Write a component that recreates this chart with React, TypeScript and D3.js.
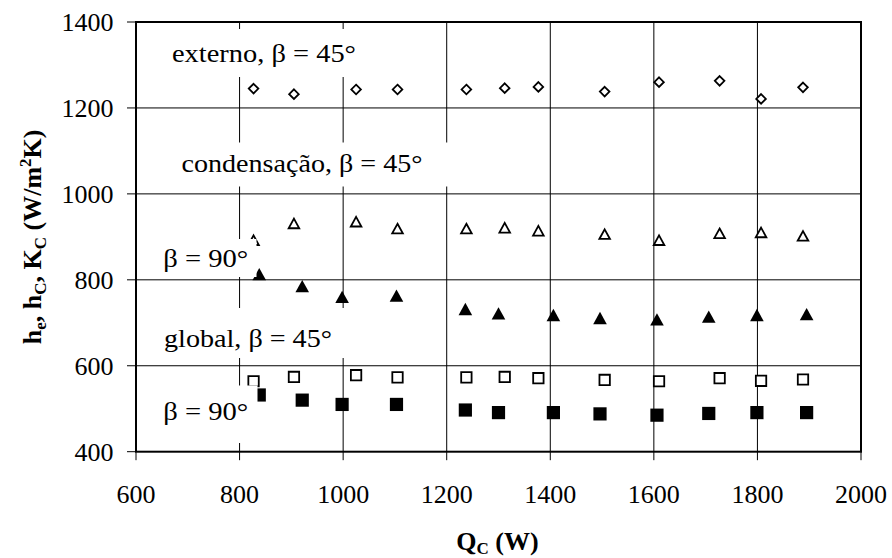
import React from "react";
import * as d3 from "d3";

// Heat load Q_C (W) for each test run
const qcOpen = [827, 905, 1025, 1105, 1238, 1312, 1377, 1505, 1610, 1727, 1807, 1888];
const qcFilled = [838, 921, 998, 1103, 1236, 1300, 1406, 1496, 1606, 1706, 1799, 1895];

// Coefficients (W/m²K)
const externo45 = [1245, 1232, 1243, 1243, 1243, 1246, 1249, 1238, 1260, 1263, 1221, 1248];
const condensacao45 = [892, 931, 935, 919, 919, 921, 914, 906, 892, 908, 910, 902];
const condensacao90 = [813, 785, 760, 763, 732, 722, 718, 711, 708, 714, 718, 720];
const global45 = [564, 574, 578, 573, 573, 574, 571, 567, 564, 571, 565, 568];
const global90 = [532, 520, 510, 510, 497, 491, 491, 488, 485, 489, 491, 491];

const xTicks = [600, 800, 1000, 1200, 1400, 1600, 1800, 2000];
const yTicks = [400, 600, 800, 1000, 1200, 1400];

const labelTexts = [
  "externo, β = 45°",
  "condensação, β = 45°",
  "β = 90°",
  "global, β = 45°",
  "β = 90°",
];

// Layout of the annotation boxes: [left, top, right, bottom], text x, baseline, text width
const labelLayout = [
  { box: [160, 29, 372, 77], tx: 172, ty: 62, w: 184 },
  { box: [172, 142.5, 456, 186.5], tx: 181.5, ty: 172.3, w: 241 },
  { box: [154, 239, 256.5, 277], tx: 163.3, ty: 266.8, w: 85 },
  { box: [154, 308, 352, 358], tx: 164, ty: 346.7, w: 168 },
  { box: [154, 385.5, 257.5, 443], tx: 163.3, ty: 420, w: 85 },
];

const W = 892;
const H = 558;
const left = 136;
const right = 861;
const top = 22;
const bottom = 451.7;

const txtStyle: React.CSSProperties = { fontFamily: '"Liberation Serif"' };

type Kind = "diamondOpen" | "triOpen" | "triFilled" | "sqOpen" | "sqFilled";

function markerPath(kind: Kind): string {
  const p = d3.path();
  if (kind === "diamondOpen") {
    const r = 4.8;
    p.moveTo(0, -r);
    p.lineTo(r, 0);
    p.lineTo(0, r);
    p.lineTo(-r, 0);
    p.closePath();
  } else if (kind === "triOpen") {
    p.moveTo(0, -4.9);
    p.lineTo(5.3, 4.7);
    p.lineTo(-5.3, 4.7);
    p.closePath();
  } else if (kind === "triFilled") {
    p.moveTo(0, -6.2);
    p.lineTo(6.8, 6.1);
    p.lineTo(-6.8, 6.1);
    p.closePath();
  } else if (kind === "sqOpen") {
    p.rect(-5.2, -5.2, 10.4, 10.4);
  } else {
    p.rect(-6.6, -6.6, 13.2, 13.2);
  }
  return p.toString();
}

export default function App() {
  const x = d3.scaleLinear().domain([600, 2000]).range([left, right]);
  const y = d3.scaleLinear().domain([400, 1400]).range([bottom, top]);

  const series: { xs: number[]; ys: number[]; kind: Kind }[] = [
    { xs: qcOpen, ys: externo45, kind: "diamondOpen" },
    { xs: qcOpen, ys: condensacao45, kind: "triOpen" },
    { xs: qcFilled, ys: condensacao90, kind: "triFilled" },
    { xs: qcOpen, ys: global45, kind: "sqOpen" },
    { xs: qcFilled, ys: global90, kind: "sqFilled" },
  ];

  const filled = (k: Kind) => k === "triFilled" || k === "sqFilled";

  return (
    <svg width={W} height={H} style={{ position: "absolute", left: 0, top: 0, background: "#fff" }}>
      <rect x={0} y={0} width={W} height={H} fill="#fff" />

      {/* grid */}
      {yTicks
        .filter((t) => t !== 400 && t !== 1400)
        .map((t) => (
          <line key={"gy" + t} x1={left} x2={right} y1={y(t)} y2={y(t)} stroke="#000" strokeWidth={1} />
        ))}
      {xTicks
        .filter((t) => t !== 600 && t !== 2000)
        .map((t) => (
          <line key={"gx" + t} x1={x(t)} x2={x(t)} y1={top} y2={bottom} stroke="#000" strokeWidth={1} />
        ))}

      {/* tick marks */}
      {yTicks.map((t) => (
        <line key={"ty" + t} x1={left - 9} x2={left} y1={y(t)} y2={y(t)} stroke="#000" strokeWidth={1} />
      ))}
      {xTicks.map((t) => (
        <line key={"tx" + t} x1={x(t)} x2={x(t)} y1={bottom} y2={bottom + 8.5} stroke="#000" strokeWidth={1} />
      ))}

      {/* plot frame */}
      <rect x={left} y={top} width={right - left} height={bottom - top} fill="none" stroke="#000" strokeWidth={2} />

      {/* data */}
      {series.map((s, si) => (
        <g key={"s" + si}>
          {s.ys.map((v, i) => (
            <path
              key={i}
              d={markerPath(s.kind)}
              transform={`translate(${x(s.xs[i])},${y(v)})`}
              fill={filled(s.kind) ? "#000" : "#fff"}
              stroke={filled(s.kind) ? "none" : "#000"}
              strokeWidth={filled(s.kind) ? 0 : 1.8}
              strokeLinejoin="miter"
            />
          ))}
        </g>
      ))}

      {/* annotations */}
      {labelTexts.map((txt, i) => {
        const L = labelLayout[i];
        const [x0, y0, x1, y1] = L.box;
        return (
          <g key={"lab" + i}>
            <rect x={x0} y={y0} width={x1 - x0} height={y1 - y0} fill="#fff" />
            <text
              x={L.tx}
              y={L.ty}
              fontSize={26}
              fill="#000"
              style={txtStyle}
              textLength={L.w}
              lengthAdjust="spacingAndGlyphs"
            >
              {txt}
            </text>
          </g>
        );
      })}

      {/* tick labels */}
      {yTicks.map((t) => (
        <text key={"ly" + t} x={113.5} y={y(t) + 9} fontSize={26} textAnchor="end" fill="#000" style={txtStyle}>
          {t}
        </text>
      ))}
      {xTicks.map((t) => (
        <text key={"lx" + t} x={x(t)} y={502.7} fontSize={26} textAnchor="middle" fill="#000" style={txtStyle}>
          {t}
        </text>
      ))}

      {/* axis titles */}
      <text
        x={497.5}
        y={550}
        fontSize={26}
        fontWeight="bold"
        textAnchor="middle"
        fill="#000"
        style={txtStyle}
      >
        Q
        <tspan fontSize={17} dy={4}>C</tspan>
        <tspan dy={-4}> (W)</tspan>
      </text>
      <text
        transform={`translate(41,${(top + bottom) / 2}) rotate(-90)`}
        fontSize={26}
        fontWeight="bold"
        textAnchor="middle"
        fill="#000"
        style={txtStyle}
      >
        h
        <tspan fontSize={17} dy={5}>e</tspan>
        <tspan dy={-5}>, h</tspan>
        <tspan fontSize={17} dy={5}>C</tspan>
        <tspan dy={-5}>, K</tspan>
        <tspan fontSize={17} dy={5}>C</tspan>
        <tspan dy={-5}> (W/m</tspan>
        <tspan fontSize={17} dy={-10}>2</tspan>
        <tspan dy={10}>K)</tspan>
      </text>
    </svg>
  );
}
